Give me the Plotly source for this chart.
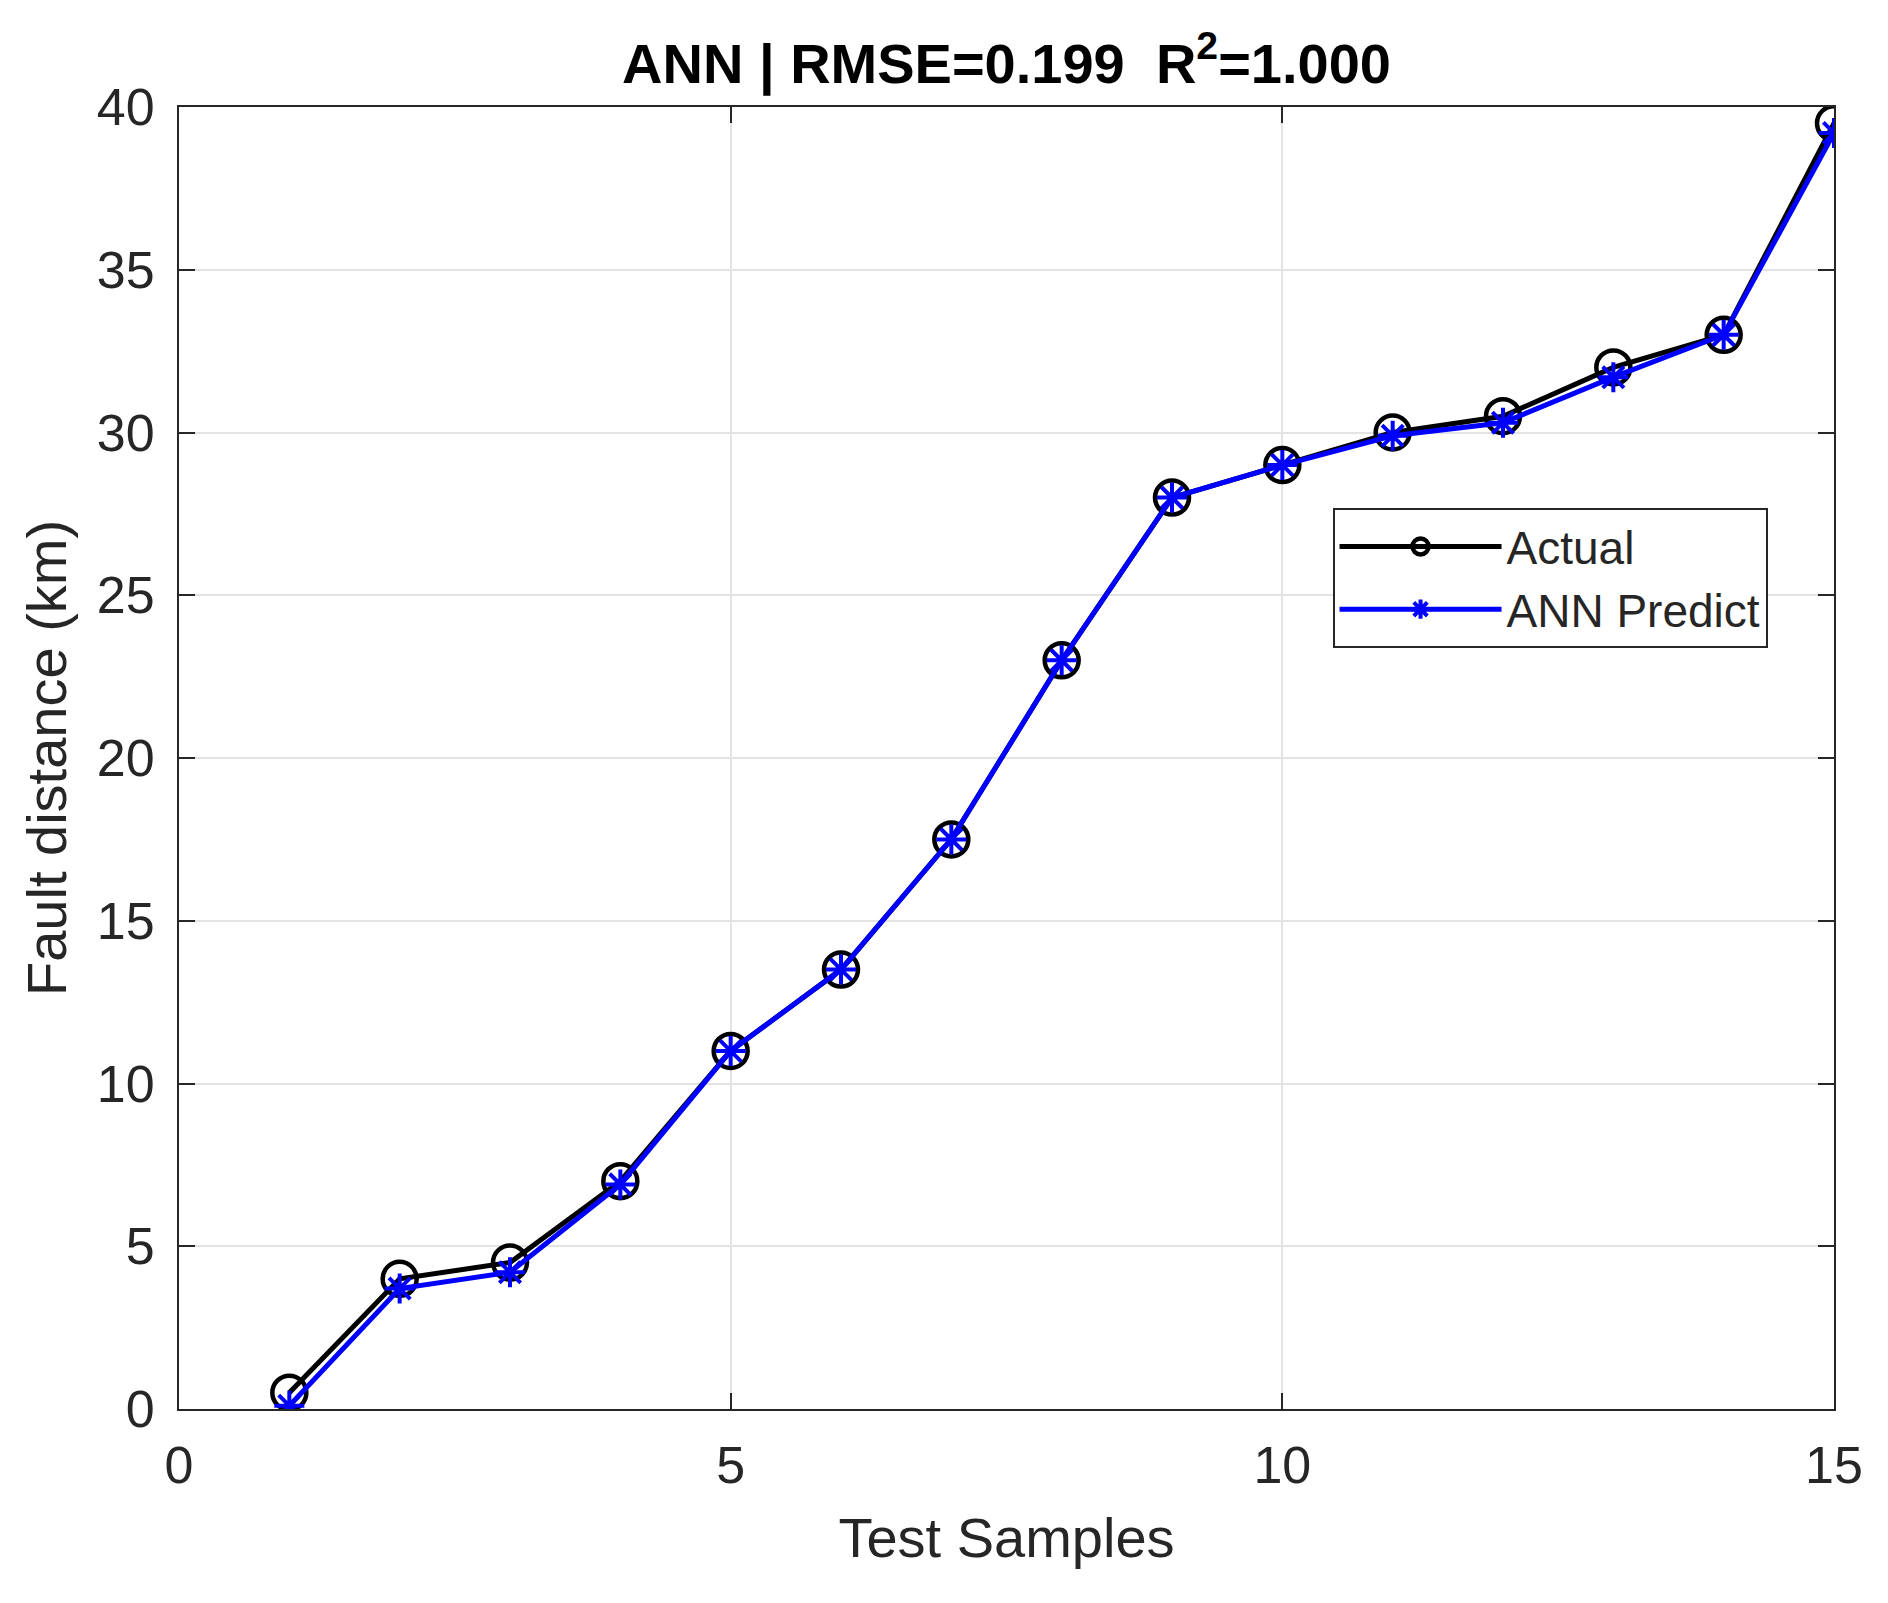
import plotly.graph_objects as go

# Datos
muestras = list(range(1, 16))
actual = [0.5, 4.0, 4.5, 7.0, 11.0, 13.5, 17.5, 23.0, 28.0, 29.0, 30.0, 30.5, 32.0, 33.0, 39.5]
ann_pred = [0.1, 3.7, 4.2, 6.9, 11.0, 13.5, 17.5, 23.0, 28.0, 29.0, 29.9, 30.3, 31.7, 33.0, 39.2]

fuente = "Liberation Sans, Arial, sans-serif"
gris = "#262626"

fig = go.Figure()

fig.add_trace(go.Scatter(
    x=muestras, y=actual, name="Actual", mode="lines+markers",
    line=dict(color="black", width=5),
    marker=dict(symbol="circle-open", size=34, color="black", line=dict(width=4.5, color="black")),
))

fig.add_trace(go.Scatter(
    x=muestras, y=ann_pred, name="ANN Predict", mode="lines+markers",
    line=dict(color="#0000ff", width=5),
    marker=dict(symbol="asterisk-open", size=25, color="#0000ff", line=dict(width=4, color="#0000ff")),
))

ejes = dict(
    showline=True, linecolor=gris, linewidth=2, mirror="ticks",
    ticks="inside", ticklen=16, tickwidth=2, tickcolor=gris,
    showgrid=True, gridcolor="#e3e3e3", gridwidth=2,
    zeroline=False, automargin=False,
    tickfont=dict(family=fuente, size=52, color=gris),
)

fig.update_layout(
    width=1888, height=1603,
    paper_bgcolor="white", plot_bgcolor="white",
    margin=dict(l=171, r=62, t=99, b=202, autoexpand=False),
    title=dict(
        text="<b>ANN | RMSE=0.199  R<sup>2</sup>=1.000</b>",
        x=0.5, xref="paper", y=1 - 55 / 1603, yref="container", yanchor="middle",
        font=dict(family=fuente, size=56, color="black"),
    ),
    xaxis=dict(ejes, range=[0, 15], tickvals=[0, 5, 10, 15], ticklabelstandoff=10,
               title=dict(text="Test Samples", standoff=24,
                          font=dict(family=fuente, size=56, color=gris))),
    yaxis=dict(ejes, range=[0, 40], tickvals=[0, 5, 10, 15, 20, 25, 30, 35, 40],
               ticklabelstandoff=12,
               title=dict(text="Fault distance (km)", standoff=12,
                          font=dict(family=fuente, size=56, color=gris))),
    legend=dict(
        x=0.697, y=0.692, xanchor="left", yanchor="top",
        bgcolor="white", bordercolor=gris, borderwidth=2,
        font=dict(family=fuente, size=46, color=gris),
        itemwidth=162, tracegroupgap=0,
    ),
    showlegend=True,
)

fig.write_html("out.html")
